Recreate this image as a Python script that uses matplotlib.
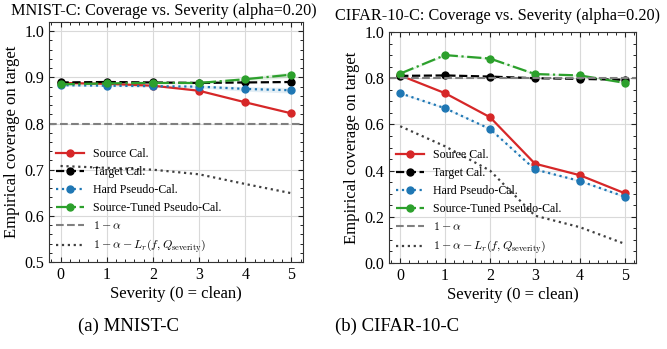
import numpy as np
import matplotlib
matplotlib.use('Agg')
import matplotlib.pyplot as plt

plt.rcParams['font.family'] = ['Liberation Serif', 'DejaVu Serif']
plt.rcParams['mathtext.fontset'] = 'cm'
plt.rcParams['xtick.direction'] = 'in'
plt.rcParams['ytick.direction'] = 'in'
plt.rcParams['xtick.top'] = True
plt.rcParams['ytick.right'] = True
plt.rcParams['xtick.minor.visible'] = True
plt.rcParams['ytick.minor.visible'] = True

severity = [0, 1, 2, 3, 4, 5]

# MNIST-C
mn_source = [0.888, 0.886, 0.882, 0.871, 0.846, 0.822]
mn_target = [0.889, 0.890, 0.889, 0.888, 0.889, 0.890]
mn_hard = [0.883, 0.882, 0.881, 0.880, 0.875, 0.872]
mn_tuned = [0.885, 0.887, 0.888, 0.888, 0.896, 0.906]
mn_bound = [0.708, 0.704, 0.700, 0.690, 0.669, 0.649]
mn_hard_sd = [0.002, 0.002, 0.002, 0.003, 0.005, 0.006]
mn_tuned_sd = [0.002, 0.002, 0.002, 0.003, 0.004, 0.006]

# CIFAR-10-C
cf_source = [0.812, 0.735, 0.631, 0.430, 0.380, 0.302]
cf_target = [0.810, 0.812, 0.807, 0.800, 0.797, 0.793]
cf_hard = [0.735, 0.670, 0.580, 0.405, 0.355, 0.287]
cf_tuned = [0.820, 0.900, 0.885, 0.818, 0.812, 0.780]
cf_bound = [0.592, 0.505, 0.400, 0.205, 0.155, 0.083]
cf_hard_sd = [0.004, 0.004, 0.004, 0.004, 0.004, 0.004]
cf_tuned_sd = [0.004, 0.004, 0.004, 0.004, 0.004, 0.004]

alpha = 0.20

W, H = 667, 349
fig = plt.figure(figsize=(W/100, H/100), dpi=100)
ax1 = fig.add_axes([49/W, 1-262/H, 254/W, 240/H])
ax2 = fig.add_axes([389/W, 1-263/H, 247/W, 231/H])

def draw(ax, src, tgt, hard, tuned, bound, hard_sd, tuned_sd, title, title_x, title_pad, ylim, yticks):
    x = np.array(severity)
    ax.grid(True, color='#d9d9d9', lw=0.8, which='major')
    ax.set_axisbelow(True)
    ax.fill_between(x, np.array(hard)-np.array(hard_sd), np.array(hard)+np.array(hard_sd),
                    color='#1f77b4', alpha=0.12, lw=0)
    ax.fill_between(x, np.array(tuned)-np.array(tuned_sd), np.array(tuned)+np.array(tuned_sd),
                    color='#2ca02c', alpha=0.12, lw=0)
    ax.plot(x, src, '-o', color='#d62728', lw=1.6, ms=5, label='Source Cal.')
    ax.plot(x, tgt, '--o', color='black', lw=1.6, ms=5, label='Target Cal.')
    ax.plot(x, hard, ':o', color='#1f77b4', lw=1.6, ms=5, label='Hard Pseudo-Cal.')
    ax.plot(x, tuned, '-.o', color='#2ca02c', lw=1.6, ms=5, label='Source-Tuned Pseudo-Cal.')
    ax.axhline(1-alpha, color='gray', ls='--', lw=1.5, label=r'$1-\alpha$')
    ax.plot(x, bound, ':', color='#404040', lw=1.6,
            label=r'$1-\alpha-L_r(f,Q_{\mathrm{severity}})$')
    ax.set_xlim(-0.25, 5.25)
    ax.set_ylim(*ylim)
    ax.set_xticks(severity)
    ax.set_yticks(yticks)
    ax.tick_params(labelsize=11.5, colors='#222222', labelcolor='black')
    for s in ax.spines.values():
        s.set_color('#333333')
    ax.set_xlabel('Severity (0 = clean)', fontsize=12, labelpad=2)
    ax.set_ylabel('Empirical coverage on target', fontsize=12, labelpad=3)
    ax.set_title(title, fontsize=11.7, pad=title_pad, x=title_x)
    ax.legend(loc='lower left', frameon=False, fontsize=8.6, handlelength=2.3,
              labelspacing=0.5, borderaxespad=0.2)

draw(ax1, mn_source, mn_target, mn_hard, mn_tuned, mn_bound, mn_hard_sd, mn_tuned_sd,
     'MNIST-C: Coverage vs. Severity (alpha=0.20)', 0.453, 5, (0.5, 1.02),
     [0.5, 0.6, 0.7, 0.8, 0.9, 1.0])
draw(ax2, cf_source, cf_target, cf_hard, cf_tuned, cf_bound, cf_hard_sd, cf_tuned_sd,
     'CIFAR-10-C: Coverage vs. Severity (alpha=0.20)', 0.441, 8.5, (0.0, 1.0),
     [0.0, 0.2, 0.4, 0.6, 0.8, 1.0])

fig.text(129/W, 1-326/H, '(a) MNIST-C', ha='center', va='center', fontsize=13.5)
fig.text(397/W, 1-326/H, '(b) CIFAR-10-C', ha='center', va='center', fontsize=13.5)

fig.savefig('out.png', dpi=100)
